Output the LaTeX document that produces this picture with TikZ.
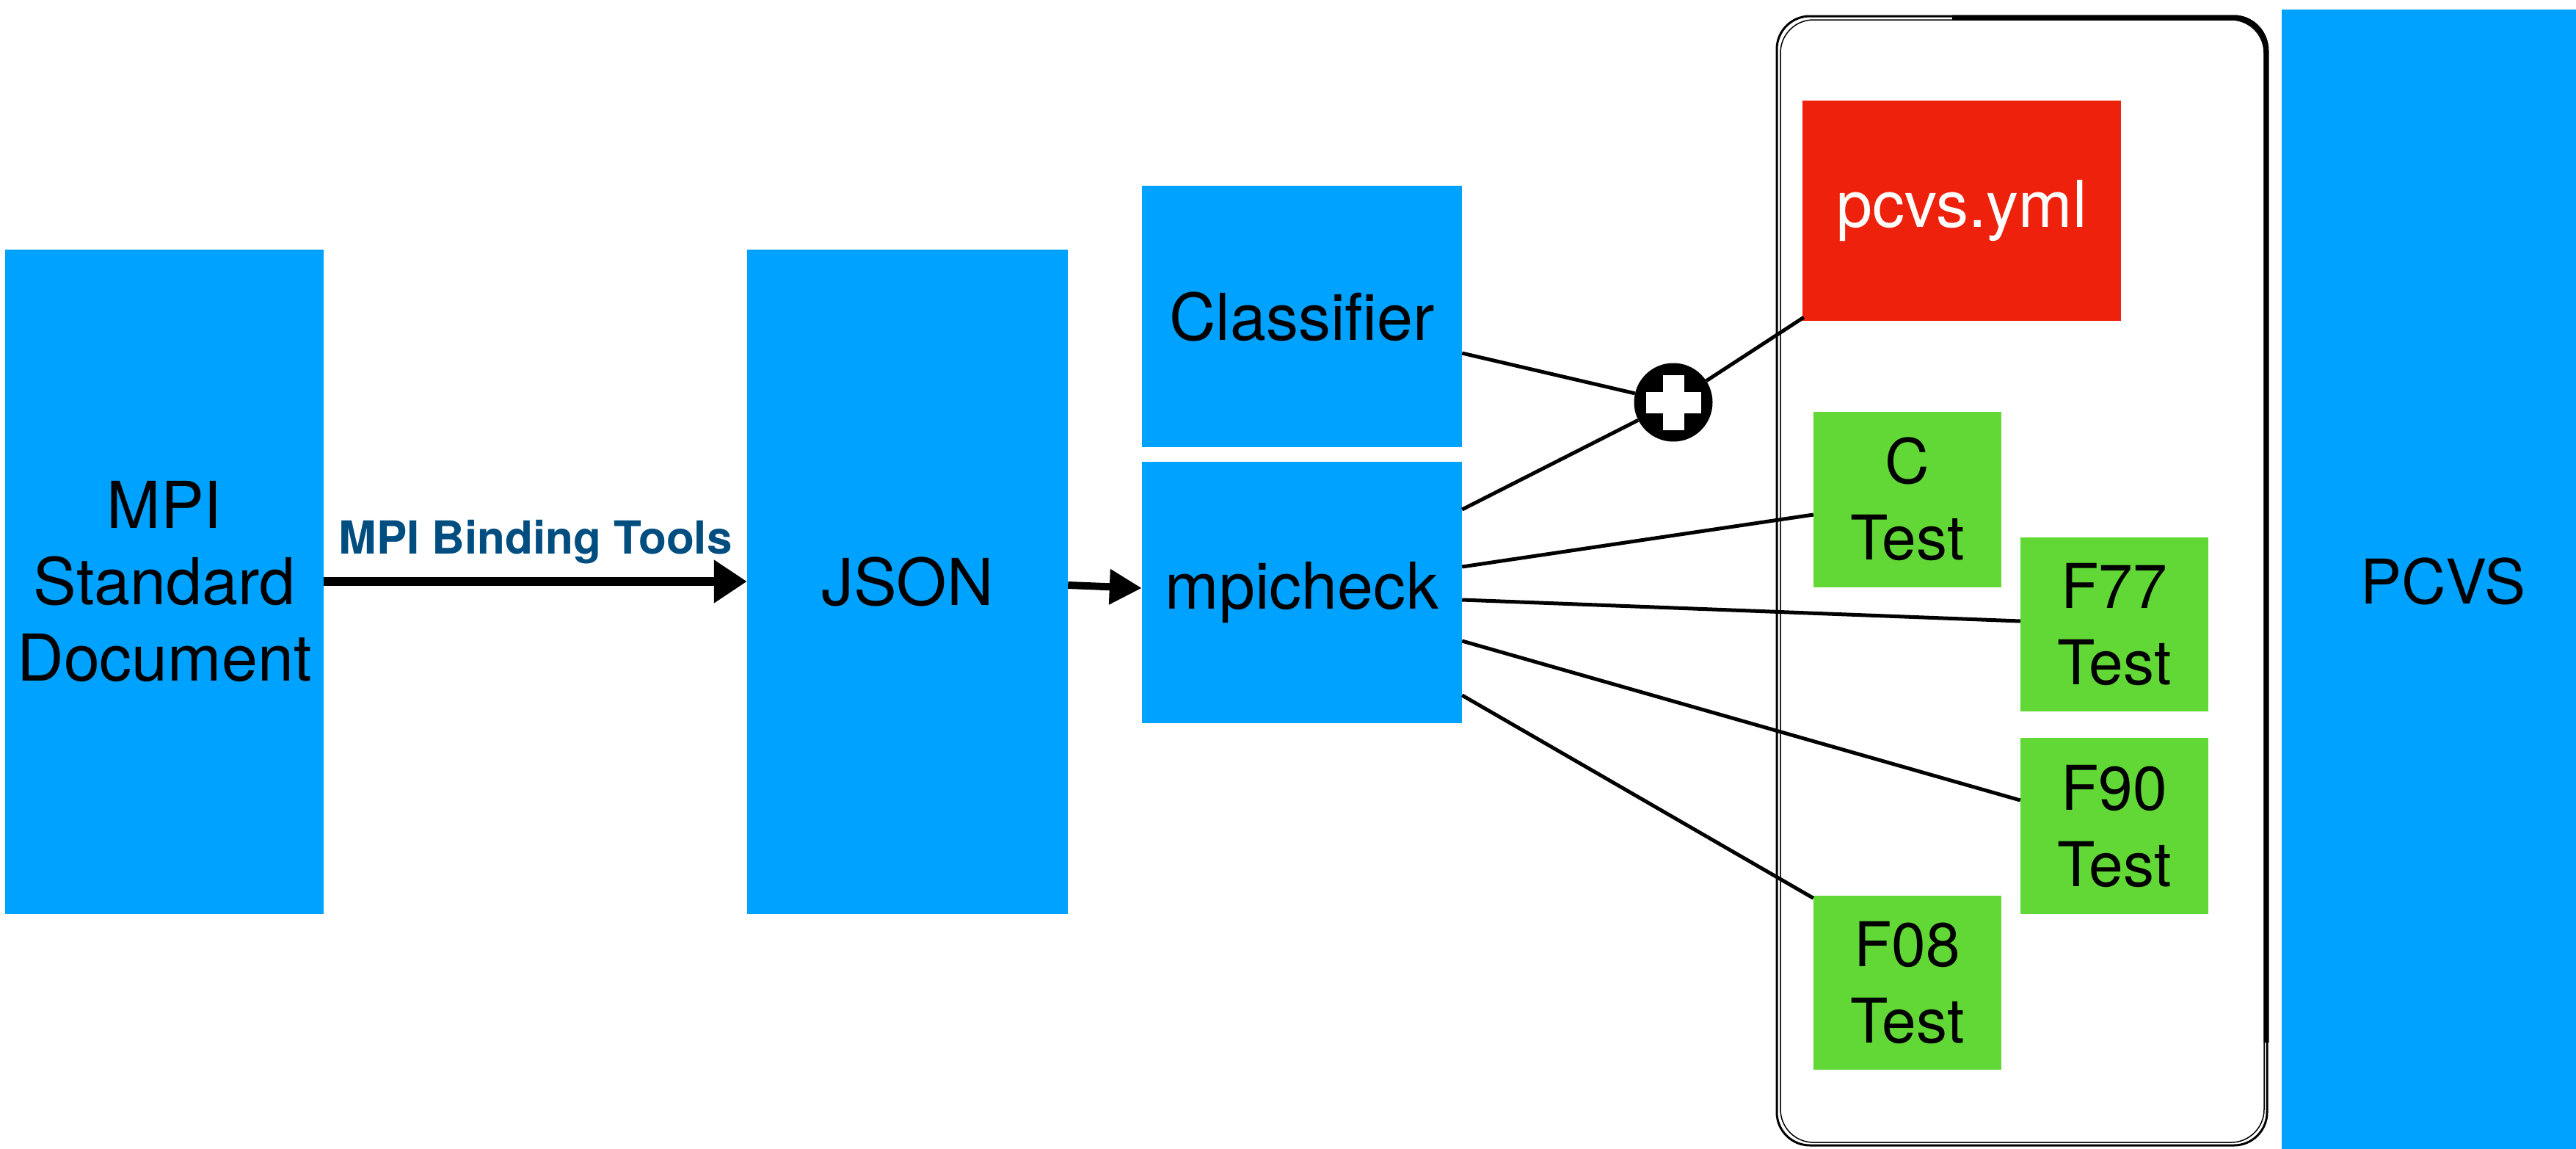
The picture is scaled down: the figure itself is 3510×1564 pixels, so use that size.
\documentclass[tikz,border=0pt]{standalone}
\usepackage{fontspec}
\setmainfont{TeX Gyre Heros}
\usetikzlibrary{arrows.meta}
\definecolor{boxblue}{HTML}{00A2FF}
\definecolor{boxred}{HTML}{EE220C}
\definecolor{boxgreen}{HTML}{61D836}
\definecolor{toolblue}{HTML}{004D80}

\begin{document}
\begin{tikzpicture}[x=1pt,y=-1pt,
  blk/.style={rectangle, inner sep=0pt, align=center,
              font=\fontsize{88}{104}\selectfont},
  bluebox/.style={blk, fill=boxblue},
  testbox/.style={blk, fill=boxgreen, minimum width=256pt,
                  font=\fontsize{84}{104}\selectfont},
  wire/.style={line width=5pt},
  bigarrow/.style={line width=12pt, -{Triangle[length=45pt,width=56pt]}},
  frame/.style={rounded corners=45pt}
]
\useasboundingbox (0,0) rectangle (3510,1564);

% hand-drawn frame round the generated files
\draw[frame, line width=3pt] (2421,22) rectangle (3089,1560);
\draw[frame, line width=1.5pt] (2426,27) rectangle (3085,1556);
\draw[frame, line width=7pt] (2660,24) -- (3088,24) -- (3088,1420);

% pipeline boxes
\node[bluebox, minimum width=434pt, minimum height=905pt] (mpi) at (224,792)
  {MPI\\Standard\\Document};
\node[bluebox, minimum width=437pt, minimum height=905pt] (json) at (1236.5,792) {JSON};
\node[bluebox, minimum width=436pt, minimum height=356pt] (cls) at (1774,431) {Classifier};
\node[bluebox, minimum width=436pt, minimum height=356pt] (chk) at (1774,807) {mpicheck};
\node[blk, fill=boxred, text=white, minimum width=434pt, minimum height=300pt]
  (yml) at (2673,287) {pcvs.yml};
\node[testbox, minimum height=239pt] (ct) at (2599,680) {C\\Test};
\node[testbox, minimum height=237pt] (f77) at (2881,850) {F77\\Test};
\node[testbox, minimum height=240pt] (f90) at (2881,1125) {F90\\Test};
\node[testbox, minimum height=237pt] (f08) at (2599,1338) {F08\\Test};
\node[bluebox, minimum width=440pt, minimum height=1557pt,
      font=\fontsize{84}{100}\selectfont] (pcvs) at (3329,791.5) {PCVS};

% merge point
\node[circle, fill=black, minimum size=107pt, inner sep=0pt] (plus) at (2280,548) {};
\fill[white] (plus.center) ++(-37.5,-14.5) rectangle ++(75,29);
\fill[white] (plus.center) ++(-14.5,-37.5) rectangle ++(29,75);

% arrows
\draw[bigarrow] (mpi.east) -- (json.west)
  node[pos=0.5, anchor=base, yshift=38pt, text=toolblue,
       font=\fontsize{62}{70}\selectfont\bfseries] {MPI Binding Tools};
\draw[line width=10pt, -{Triangle[length=44pt,width=46pt]}]
  ([yshift=-5pt]json.east) -- ([yshift=6pt]chk.west);

% connectors
\draw[wire] ([yshift=-50pt]cls.east) -- (plus);
\draw[wire] ([yshift=113pt]chk.east) -- (plus);
\draw[wire] (plus) -- ([xshift=2pt,yshift=5pt]yml.south west);
\draw[wire] ([yshift=35pt]chk.east) -- ([yshift=-21pt]ct.west);
\draw[wire] ([yshift=-10pt]chk.east) -- ([yshift=4pt]f77.west);
\draw[wire] ([yshift=-66pt]chk.east) -- ([yshift=35pt]f90.west);
\draw[wire] ([yshift=-140pt]chk.east) -- ([yshift=-4pt]f08.north west);
\end{tikzpicture}
\end{document}
